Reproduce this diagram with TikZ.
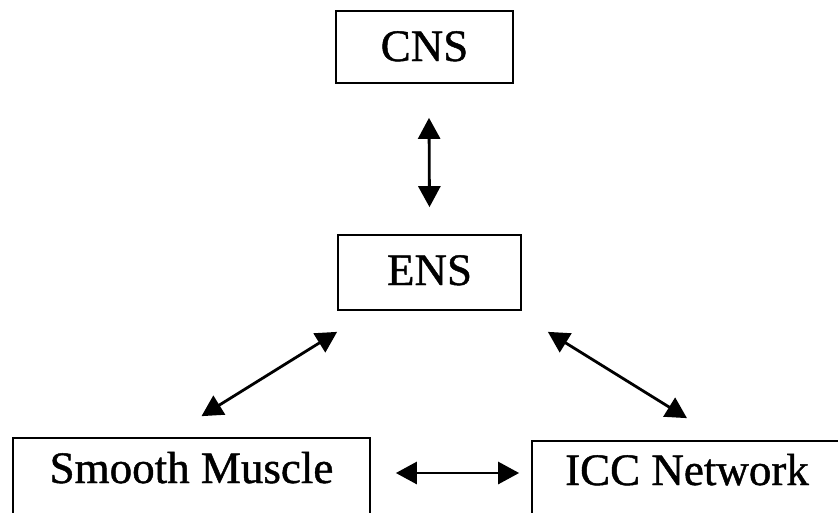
\documentclass[tikz,border=0pt]{standalone}
\usepackage{fontspec}
\setmainfont[FakeBold=1]{Liberation Serif}
\usetikzlibrary{arrows.meta}

\begin{document}
\begin{tikzpicture}[x=1pt, y=-1pt,
    box/.style={draw, line width=1.7pt, inner sep=0pt, anchor=base, font=\fontsize{45}{54}\selectfont},
    link/.style={{Triangle[length=21pt,width=22pt]}-{Triangle[length=21pt,width=22pt]}, line width=2.8pt}]
  \useasboundingbox (0,0) rectangle (838,512);

  % nervous system levels
  \node (cns) [box, minimum width=177pt, text height=50pt, text depth=22pt] at (424.5,61) {CNS};
  \node (ens) [box, minimum width=183pt, text height=50pt, text depth=25pt] at (429.5,285) {ENS};
  % effector layer (boxes run off the page at the bottom)
  \node (muscle) [box, minimum width=357pt, text height=45pt, text depth=40pt] at (191.5,483) {Smooth Muscle};
  \node (icc) [box, minimum width=310pt, text height=44pt, text depth=40pt] at (687,485) {ICC Network};

  \draw[link] ([xshift=4.5pt,yshift=-34pt]cns.south) -- ([yshift=27pt]ens.north);
  \draw[link] ([yshift=-21pt]ens.south west) -- ([xshift=10pt,yshift=21pt]muscle.north);
  \draw[link] ([xshift=26pt,yshift=-21pt]ens.south east) -- ([yshift=22pt]icc.north);
  \draw[link] ([xshift=25pt,yshift=7.5pt]muscle.east) -- ([xshift=-12pt,yshift=10pt]icc.west);
\end{tikzpicture}
\end{document}
